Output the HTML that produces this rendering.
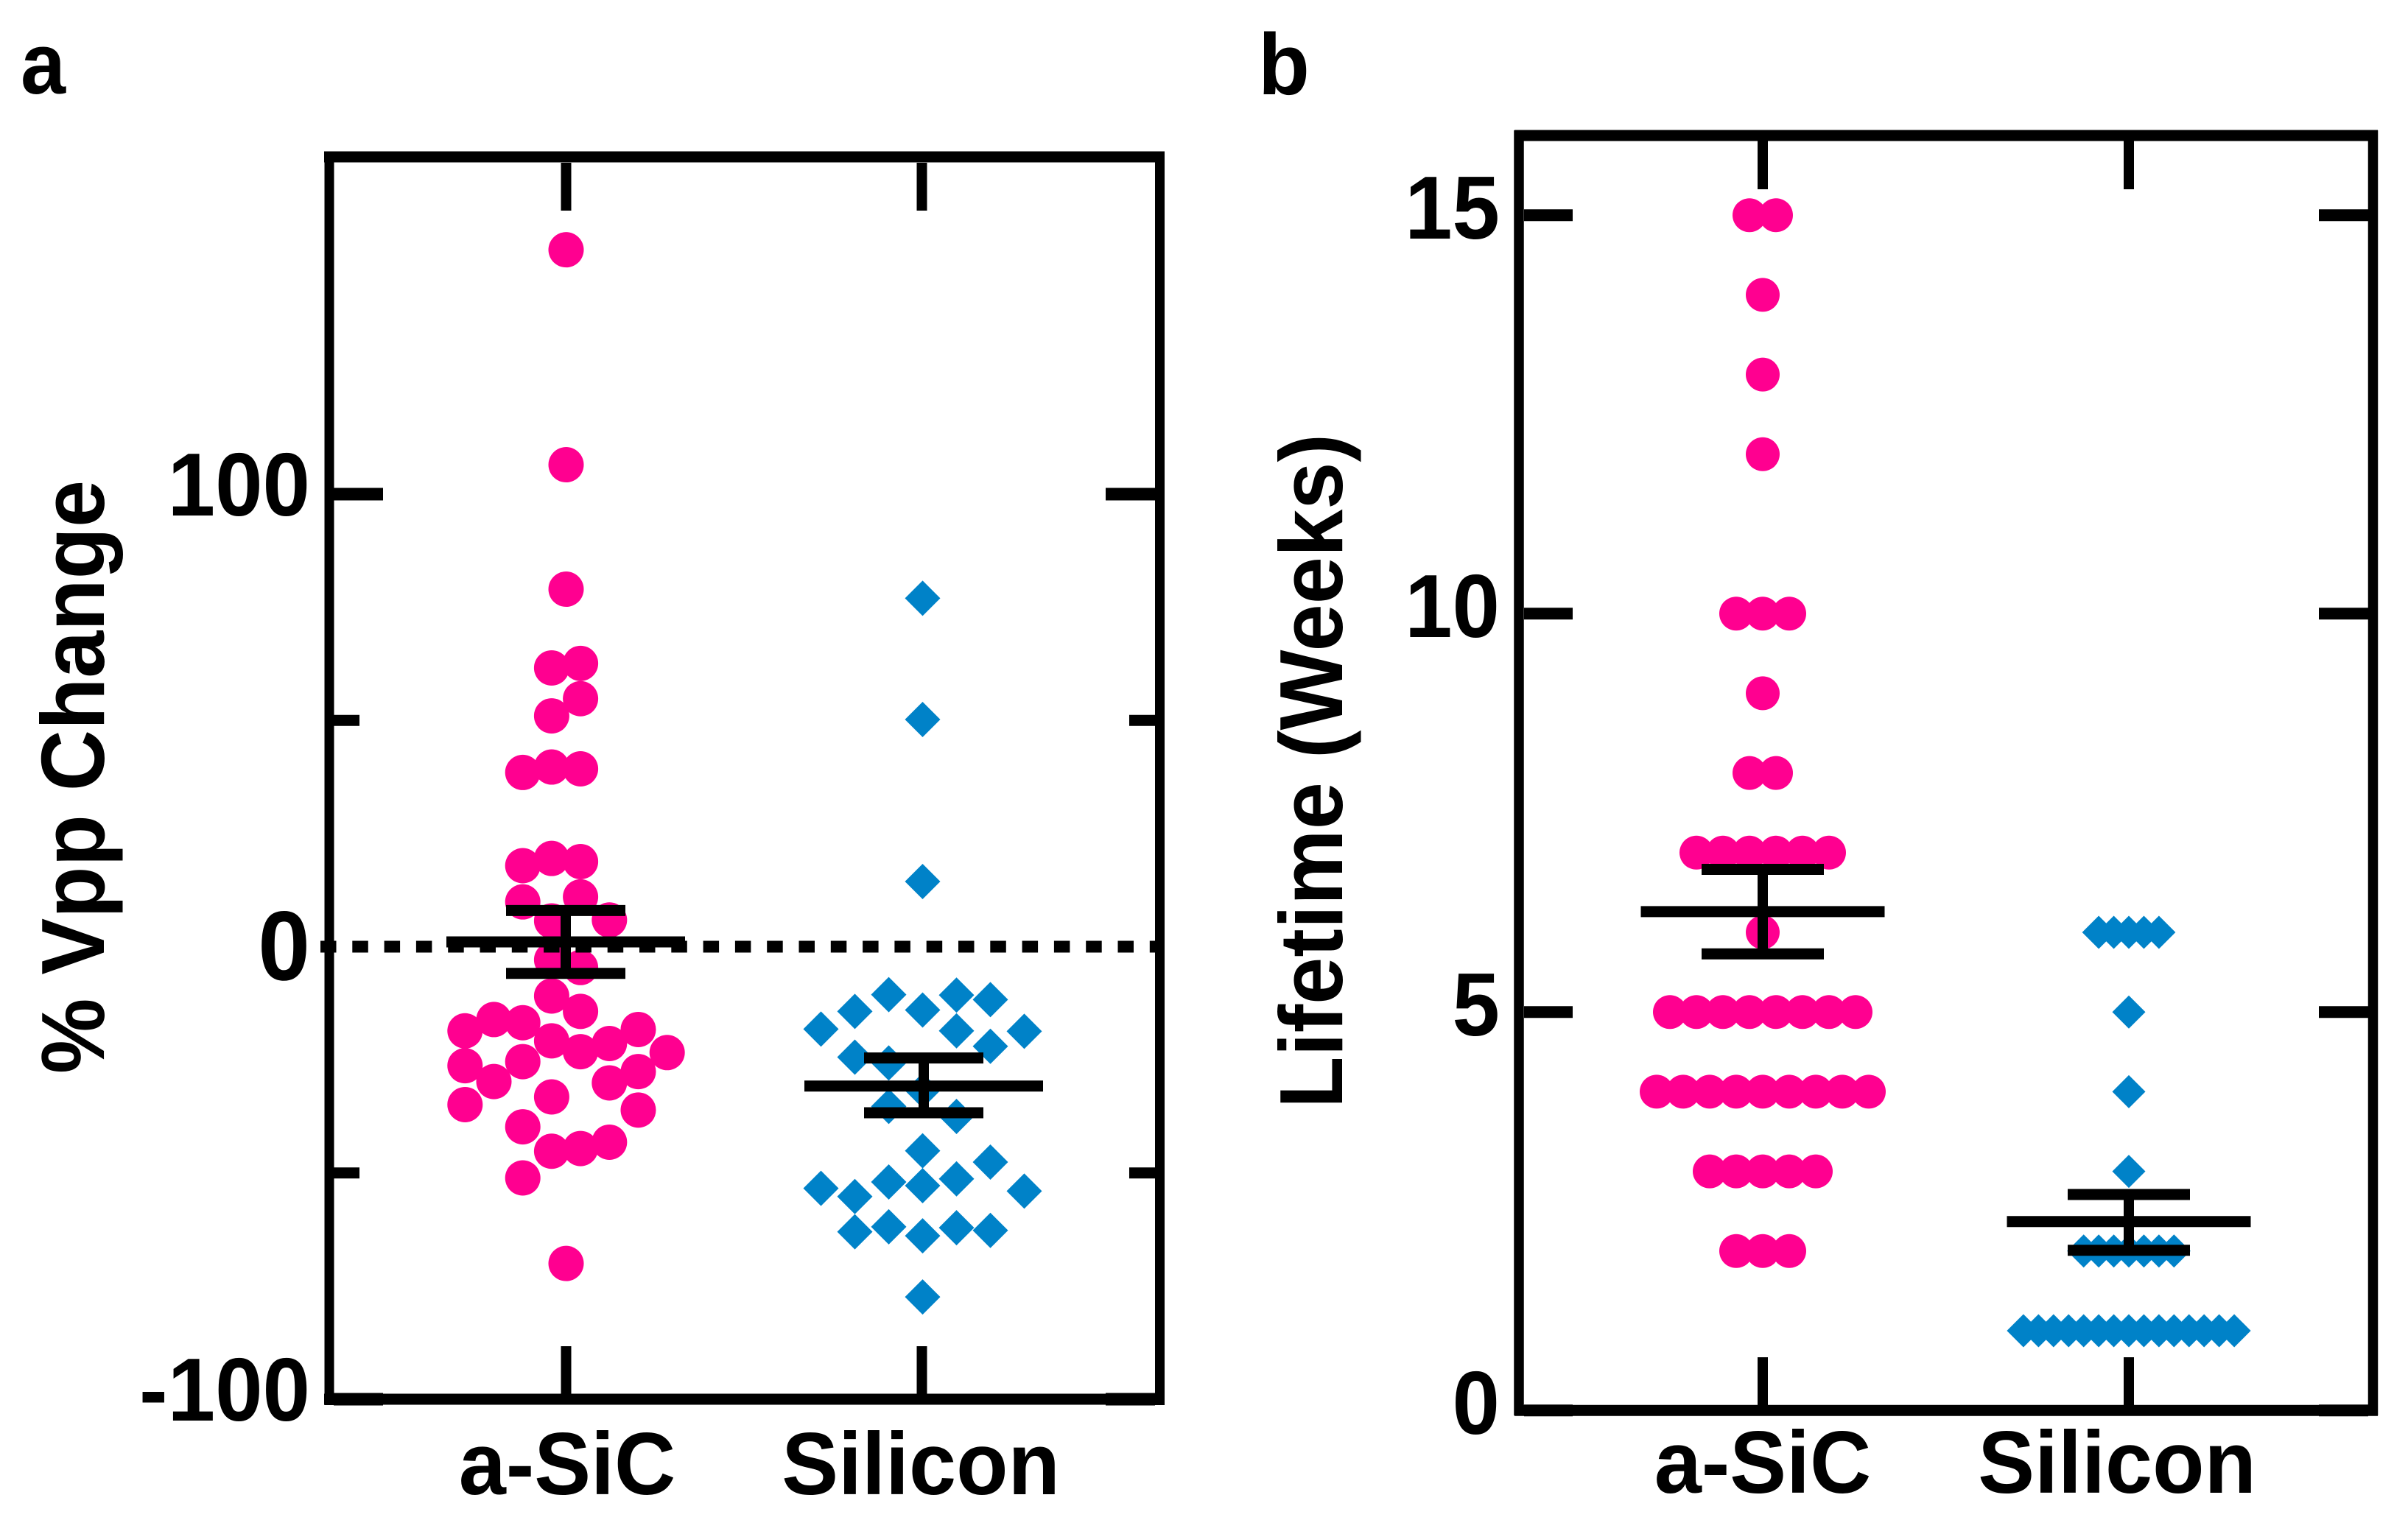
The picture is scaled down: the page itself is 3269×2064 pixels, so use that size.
<!DOCTYPE html>
<html lang="en">
<head>
<meta charset="utf-8">
<title>Vpp change and lifetime: a-SiC vs Silicon</title>
<style>
html,body{margin:0;padding:0;background:#fff;}
svg{display:block;}
text{font-family:"Liberation Sans",Arial,sans-serif;font-weight:700;fill:#000;}
</style>
</head>
<body>
<svg id="figure" xmlns="http://www.w3.org/2000/svg" width="3269" height="2064" viewBox="0 0 3269 2064">
  <rect x="0" y="0" width="3269" height="2064" fill="#ffffff"/>
  <text transform="translate(28 127) scale(0.93 1)" font-size="118">a</text>
  <text transform="translate(1708 128) scale(0.97 1)" font-size="118">b</text>
  <text transform="translate(141 1055) rotate(-90)" text-anchor="middle" font-size="122" textLength="806" lengthAdjust="spacingAndGlyphs">% Vpp Change</text>
  <text transform="translate(1822 1047) rotate(-90)" text-anchor="middle" font-size="122" textLength="916" lengthAdjust="spacingAndGlyphs">Lifetime (Weeks)</text>
  <g id="panel-a"></g>
  <g id="panel-b"></g>
</svg>
<script>
// ---- Panel a data: % Vpp change ----
const categoriesA = ['a-SiC', 'Silicon'];
const asicVpp = [154,106.5,79,61.6,62.6,51,54.8,38.5,39.7,39.3,17.9,19.5,18.8,9.9,11,5.7,5.9,-2.9,-4.6,-10.9,-14.3,-18.6,-16.1,-16.8,-20.8,-23.2,-21.4,-18.3,-23.4,-26.3,-25.4,-29.8,-27.6,-30.1,-34.9,-33.2,-36.1,-39.8,-45.2,-44.6,-43.2,-51.1,-70];
const asicVppSwarmSlot = [0,0,0,-1,1,-1,1,-3,-1,1,-3,-1,1,-3,1,-1,3,-1,1,-1,1,-7,-5,-3,-1,1,3,5,7,-7,-3,-5,5,3,-7,-1,5,-3,-1,1,3,-3,0];
const siliconVpp = [77,50.2,14.4,-10.6,-10.7,-11.7,-14.3,-14,-18.2,-18.6,-18.7,-24.4,-22,-25.7,-31.8,-35.3,-37.5,-45.1,-47.6,-52,-52.8,-51.3,-53.4,-54,-55.2,-63,-61.9,-63.9,-62.1,-62.7,-77.4];
const siliconVppSwarmSlot = [0,0,0,-1,1,2,-2,0,-3,1,3,-2,2,-1,0,-1,1,0,2,-1,0,1,-3,3,-2,-2,-1,0,1,2,0];
const vppMean = [1.06,-30.8];
const vppUpper = [8,-24.6];
const vppLower = [-5.9,-36.7];
const vppMajorTicks = [100,-100];
const vppMinorTicks = [50,-50];
const vppTickLabels = ['100','0','-100'];
const vppTickLabelValues = [100,0,-100];
const vppReference = 0;

// ---- Panel b data: lifetime in weeks ----
const categoriesB = ['a-SiC', 'Silicon'];
const asicWeeks = [15,15,14,13,12,10,10,10,9,8,8,7,7,7,7,7,7,6,5,5,5,5,5,5,5,5,4,4,4,4,4,4,4,4,4,3,3,3,3,3,2,2,2];
const siliconWeeks = [6,6,6,6,6,5,4,3,2,2,2,2,2,2,2,1,1,1,1,1,1,1,1,1,1,1,1,1,1,1];
const weeksMean = [6.26,2.37];
const weeksUpper = [6.79,2.71];
const weeksLower = [5.73,2.01];
const weeksTicks = [15,10,5,0];
const weeksTickLabels = ['15','10','5','0'];

// ---- Axis functions ----
const NS = 'http://www.w3.org/2000/svg';
const yA = v => 1285.5 - v * 6.145;
const yB = v => 1915.2 - v * 108.2;
const xCenterA = i => 768.5 + i * 483.5;
const xCenterB = i => 2393 + i * 497;
const PINK = '#ff0090';
const BLUE = '#0082c8';
const panelA = document.getElementById('panel-a');
const panelB = document.getElementById('panel-b');

function line(parent, x1, y1, x2, y2, w, name) {
  const el = document.createElementNS(NS, 'line');
  el.setAttribute('x1', x1);
  el.setAttribute('y1', y1);
  el.setAttribute('x2', x2);
  el.setAttribute('y2', y2);
  el.setAttribute('stroke', '#000');
  el.setAttribute('stroke-width', w);
  
  
  parent.appendChild(el);
  return el;
}
function label(parent, x, y, txt, size, anchor, sx, name) {
  const el = document.createElementNS(NS, 'text');
  el.setAttribute('transform', 'translate(' + x + ' ' + y + ') scale(' + sx + ' 1)');
  el.setAttribute('font-size', size);
  el.setAttribute('text-anchor', anchor);
  el.textContent = txt;
  
  
  parent.appendChild(el);
  return el;
}
function dot(parent, cx, cy, r, name) {
  const el = document.createElementNS(NS, 'circle');
  el.setAttribute('cx', cx);
  el.setAttribute('cy', cy);
  el.setAttribute('r', r);
  el.setAttribute('fill', PINK);
  
  
  parent.appendChild(el);
}
function diamond(parent, cx, cy, r, name) {
  const el = document.createElementNS(NS, 'polygon');
  el.setAttribute('points', (cx - r) + ',' + cy + ' ' + cx + ',' + (cy - r) + ' ' + (cx + r) + ',' + cy + ' ' + cx + ',' + (cy + r));
  el.setAttribute('fill', BLUE);
  
  
  parent.appendChild(el);
}
function errorBars(parent, cx, y, mean, up, lo, halfMean, halfCap, prefix) {
  line(parent, cx, y(up), cx, y(lo), 14, prefix + '-error-stem');
  line(parent, cx - halfMean, y(mean), cx + halfMean, y(mean), 15, prefix + '-mean-line');
  line(parent, cx - halfCap, y(up), cx + halfCap, y(up), 15, prefix + '-upper-cap');
  line(parent, cx - halfCap, y(lo), cx + halfCap, y(lo), 15, prefix + '-lower-cap');
}
// Stack repeated values side by side, centred on the category.
function rowOffsets(values, step) {
  const counts = {};
  const seen = {};
  values.forEach(v => { counts[v] = (counts[v] || 0) + 1; });
  return values.map(v => {
    seen[v] = (seen[v] || 0) + 1;
    return (seen[v] - 1 - (counts[v] - 1) / 2) * step;
  });
}

// ---- Panel a ----
asicVpp.forEach((v, i) => {
  dot(panelA, xCenterA(0) + asicVppSwarmSlot[i] * 19.6, yA(v), 24, 'a-sic-vpp-point');
});
siliconVpp.forEach((v, i) => {
  diamond(panelA, xCenterA(1) + 0.5 + siliconVppSwarmSlot[i] * 46, yA(v), 24, 'silicon-vpp-point');
});
const refLine = line(panelA, 435, yA(vppReference), 1574, yA(vppReference), 16, 'zero-reference-line');
refLine.setAttribute('stroke-dasharray', '21.5 21.8');
categoriesA.forEach((c, i) => {
  errorBars(panelA, xCenterA(i) - (i === 0 ? 0.5 : -2), yA, vppMean[i], vppUpper[i], vppLower[i], 162, 81, c.toLowerCase() + '-vpp');
});
line(panelA, 447, 206, 447, 1908, 13, 'y-axis-left-a');
line(panelA, 1574.5, 206, 1574.5, 1908, 13, 'y-axis-right-a');
line(panelA, 440, 213, 1581, 213, 15, 'top-axis-a');
line(panelA, 440, yA(-100), 1581, yA(-100), 15, 'x-axis-a');
vppMajorTicks.forEach(v => {
  line(panelA, 453, yA(v), 520, yA(v), 17, 'y-major-tick-left-a');
  line(panelA, 1501, yA(v), 1568, yA(v), 17, 'y-major-tick-right-a');
});
vppMinorTicks.forEach(v => {
  line(panelA, 453, yA(v), 488, yA(v), 15, 'y-minor-tick-left-a');
  line(panelA, 1533, yA(v), 1568, yA(v), 15, 'y-minor-tick-right-a');
});
vppTickLabels.forEach((t, i) => {
  const v = vppTickLabelValues[i];
  label(panelA, 421, yA(v) + (v === 0 ? 45 : 29), t, v === 0 ? 134 : 122, 'end', 0.95, 'y-tick-label-a');
});
categoriesA.forEach((c, i) => {
  line(panelA, xCenterA(0) + i * 483, 221, xCenterA(0) + i * 483, 286, 14, 'x-tick-top-a');
  line(panelA, xCenterA(0) + i * 483, 1828, xCenterA(0) + i * 483, 1893, 14, 'x-tick-bottom-a');
  label(panelA, i === 0 ? 770 : 1250, 2029, c, 120, 'middle', 0.96, 'x-category-label-a');
});

// ---- Panel b ----
const asicOffsets = rowOffsets(asicWeeks, 36);
asicWeeks.forEach((v, i) => {
  dot(panelB, xCenterB(0) + asicOffsets[i], yB(v), 23, 'a-sic-weeks-point');
});
const siliconOffsets = rowOffsets(siliconWeeks, 20.44);
siliconWeeks.forEach((v, i) => {
  diamond(panelB, xCenterB(1) + siliconOffsets[i], yB(v), 22.5, 'silicon-weeks-point');
});
categoriesB.forEach((c, i) => {
  errorBars(panelB, xCenterB(i), yB, weeksMean[i], weeksUpper[i], weeksLower[i], 165.5, 83, c.toLowerCase() + '-weeks');
});
line(panelB, 2062, 177, 2062, 1922, 13.5, 'y-axis-left-b');
line(panelB, 3221.5, 177, 3221.5, 1922, 13.5, 'y-axis-right-b');
line(panelB, 2056, 184, 3228, 184, 15, 'top-axis-b');
line(panelB, 2056, yB(0), 3228, yB(0), 15, 'x-axis-b');
weeksTicks.forEach((v, i) => {
  line(panelB, 2069, yB(v), 2135, yB(v), 16, 'y-tick-left-b');
  line(panelB, 3148, yB(v), 3215, yB(v), 16, 'y-tick-right-b');
  label(panelB, 2036, yB(v) + 32, weeksTickLabels[i], 122, 'end', 0.95, 'y-tick-label-b');
});
categoriesB.forEach((c, i) => {
  line(panelB, xCenterB(i), 191, xCenterB(i), 257, 14, 'x-tick-top-b');
  line(panelB, xCenterB(i), 1843, xCenterB(i), 1908, 14, 'x-tick-bottom-b');
  label(panelB, i === 0 ? 2393 : 2874, 2027, c, 120, 'middle', 0.96, 'x-category-label-b');
});
</script>
</body>
</html>
